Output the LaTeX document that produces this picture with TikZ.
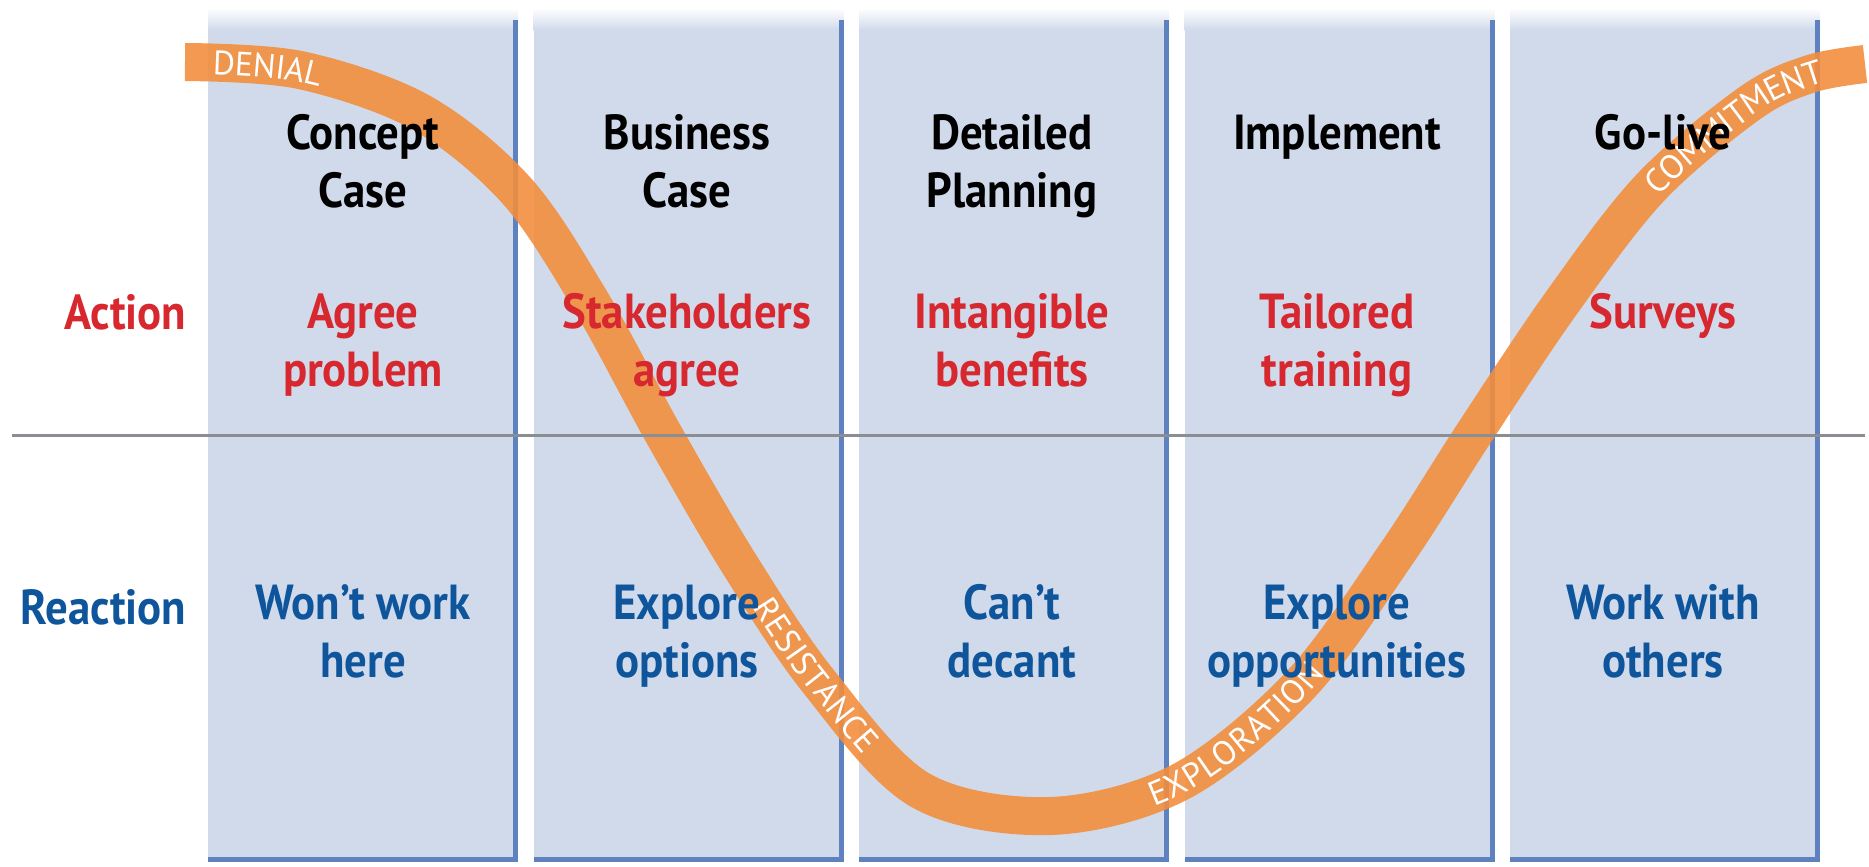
\documentclass[tikz,border=0pt]{standalone}
\usepackage{fontspec}
\setmainfont[FakeStretch=0.91]{PT Sans}
\newfontfamily\bandfont[LetterSpace=8]{PT Sans}
\usetikzlibrary{positioning, decorations.text}

\definecolor{colfill}{HTML}{D1DAEB}
\definecolor{coledge}{HTML}{5E82C0}
\definecolor{bandor}{HTML}{F28E3E}
\definecolor{actred}{HTML}{D7282F}
\definecolor{reblue}{HTML}{0E559C}
\definecolor{rulegray}{HTML}{8A8D92}

\tikzset{
  stage/.style={font=\bfseries\fontsize{14}{16.5}\selectfont, align=center, anchor=north, inner sep=0pt},
  head/.style={stage, text=black},
  act/.style={stage, text=actred},
  react/.style={stage, text=reblue},
  rowlbl/.style={font=\bfseries\fontsize{14}{16.5}\selectfont, anchor=base east, inner sep=0pt},
  band/.style={draw=bandor, draw opacity=0.9, line width=0.38cm},
  phase/.style 2 args={postaction={decorate, decoration={text along path,
      text={|\bandfont\fontsize{9.6}{11}\selectfont|#2}, text color=white,
      raise=-3.4pt, text align={left indent=#1}}}}
}

\begin{document}
\begin{tikzpicture}[x=0.01cm, y=-0.01cm]
\useasboundingbox (0,0) rectangle (1869,866);

% columns
\foreach \i in {0,...,4} {
  \pgfmathsetmacro\xl{208+325.5*\i}
  \fill[colfill] (\xl,30) rectangle ++(310,830);
  \shade[top color=white, bottom color=colfill] (\xl,8) rectangle ++(310,22);
  \draw[coledge, line width=0.5mm] (\xl+307.5,20) -- (\xl+307.5,859.5) -- (\xl,859.5);
}

% the change curve
\draw[band] plot[smooth, tension=0.55] coordinates {(185,62) (300,70) (420,112)
    (516,190) (590,300) (664,435) (740,565) (819,682) (920,790) (1050,816)
    (1180,782) (1300,685) (1397,553) (1473,435) (1560,305) (1650,188)
    (1750,103) (1810,74) (1865,64)};

% phase words along the curve
\path[phase={0.28cm}{DENIAL}] plot[smooth, tension=0.55]
  coordinates {(185,62) (300,70) (420,112) (516,190)};
\path[phase={4.8cm}{RESISTANCE}] plot[smooth, tension=0.55]
  coordinates {(516,190) (590,300) (664,435) (740,565) (819,682) (920,790) (1050,816)};
\path[phase={2.35cm}{EXPLORATION}] plot[smooth, tension=0.55]
  coordinates {(920,790) (1050,816) (1180,782) (1300,685) (1397,553) (1473,435)};
\path[phase={4.44cm}{COMMITMENT}] plot[smooth, tension=0.55]
  coordinates {(1397,553) (1473,435) (1560,305) (1650,188) (1750,103) (1810,74)
    (1865,64) (1960,58)};

\draw[rulegray, line width=0.3mm] (12,435) -- (1865,435);

% row labels
\node[rowlbl, text=actred] (action) at (187,329) {Action};
\node[rowlbl, text=reblue] (reaction) at (187,624) {Reaction};

% stages
\node[head] (h1) at (363,114) {Concept\\Case};
\node[head] (h2) at (687,114) {Business\\Case};
\node[head] (h3) at (1012,114) {Detailed\\Planning};
\node[head] (h4) at (1337,114) {Implement};
\node[head] (h5) at (1663,114) {Go-live};

\node[act] (a1) at (363,293) {Agree\\problem};
\node[act] (a2) at (687,293) {Stakeholders\\agree};
\node[act] (a3) at (1012,293) {Intangible\\benefits};
\node[act] (a4) at (1337,293) {Tailored\\training};
\node[act] (a5) at (1663,293) {Surveys};

\node[react] (r1) at (363,584) {Won’t work\\here};
\node[react] (r2) at (687,584) {Explore\\options};
\node[react] (r3) at (1012,584) {Can’t\\decant};
\node[react] (r4) at (1337,584) {Explore\\opportunities};
\node[react] (r5) at (1663,584) {Work with\\others};
\end{tikzpicture}
\end{document}
